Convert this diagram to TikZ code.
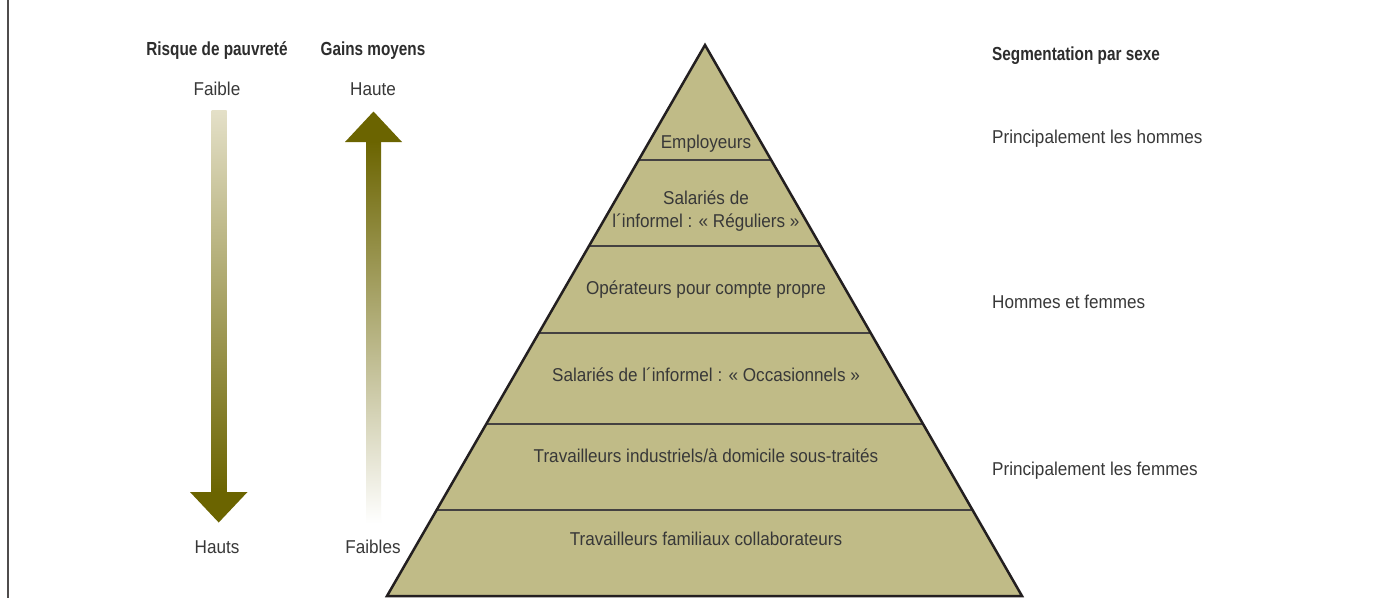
\documentclass[tikz,border=0pt]{standalone}
\usepackage{fontspec}
\newfontfamily\rfont[FakeStretch=0.92]{Liberation Sans}
\newfontfamily\bfont[FakeStretch=0.81]{Liberation Sans}
\usetikzlibrary{calc}
\definecolor{arrowol}{HTML}{6B6400}
\definecolor{arrowlight}{HTML}{E4E0C8}
\definecolor{arrowmid}{HTML}{A39D5C}
\definecolor{pyrcol}{HTML}{C0BB87}
\definecolor{txtcol}{HTML}{383838}
\definecolor{edgecol}{HTML}{231F20}
\tikzset{
  lbl/.style={inner sep=0pt, text=txtcol, font=\rfont\fontsize{18.6}{20}\selectfont},
  hdr/.style={inner sep=0pt, text=txtcol!80!black, font=\bfont\bfseries\fontsize{18.9}{20}\selectfont},
  divline/.style={draw=edgecol!85, line width=1.2pt},
  pyredge/.style={draw=edgecol, line width=2.5pt, line join=miter},
  headfill/.style={fill=arrowol, draw=none}
}
\begin{document}
\begin{tikzpicture}[x=1pt,y=-1pt]
\path[use as bounding box] (0,0) rectangle (1394,598);
\fill[white] (0,0) rectangle (1394,598);
% left frame line
\coordinate (ftop) at (8,0);
\coordinate (fbot) at (8,598);
\draw[edgecol!80, line width=1.2pt] (ftop) -- (fbot);

% headers
\node[hdr, anchor=base] (hrisk) at (217,55) {Risque de pauvreté};
\node[hdr, anchor=base] (hgain) at (373,55) {Gains moyens};
\node[hdr, anchor=base west] (hseg) at (992,60) {Segmentation par sexe};

% left arrow (down)
\node[lbl, anchor=base] (faible) at (217,95) {Faible};
\node[lbl, anchor=base] (hauts) at (217,553) {Hauts};
\shade[top color=arrowlight, middle color=arrowmid, bottom color=arrowol] (211.5,110) rectangle (226.5,492.5);
\fill[headfill] (190,492) -- (247.5,492) -- (218.7,522.5) -- cycle;

% right arrow (up)
\node[lbl, anchor=base] (haute) at (373,95) {Haute};
\node[lbl, anchor=base] (faibles) at (373,553) {Faibles};
\shade[top color=arrowol, middle color=arrowmid!85!white, bottom color=white] (366,141) rectangle (381,523.5);
\fill[headfill] (345,142) -- (402,142) -- (373.5,111.5) -- cycle;

% pyramid
\coordinate (apex) at (705,45);
\coordinate (bl) at (387,596);
\coordinate (br) at (1022,596);
\fill[pyrcol] (apex) -- (bl) -- (br) -- cycle;
\foreach \t in {0.2087,0.3648,0.5227,0.6878,0.8439}{
  \draw[divline] ($(apex)!\t!(bl)$) -- ($(apex)!\t!(br)$);
}
\draw[pyredge] (apex) -- (bl) -- (br) -- cycle;

\node[lbl, anchor=base] (emp) at (706,148) {Employeurs};
\node[lbl, anchor=base] (reg1) at (706,204) {Salariés de};
\node[lbl, anchor=base] (reg2) at (706,227) {l´informel : « Réguliers »};
\node[lbl, anchor=base] (ope) at (706,294) {Opérateurs pour compte propre};
\node[lbl, anchor=base] (occ) at (706,381) {Salariés de l´informel : « Occasionnels »};
\node[lbl, anchor=base] (ind) at (706,462) {Travailleurs industriels/à domicile sous-traités};
\node[lbl, anchor=base] (fam) at (706,545) {Travailleurs familiaux collaborateurs};

% right column
\node[lbl, anchor=base west] (hom) at (992,143) {Principalement les hommes};
\node[lbl, anchor=base west] (hf) at (992,308) {Hommes et femmes};
\node[lbl, anchor=base west] (fem) at (992,475) {Principalement les femmes};
\end{tikzpicture}
\end{document}
